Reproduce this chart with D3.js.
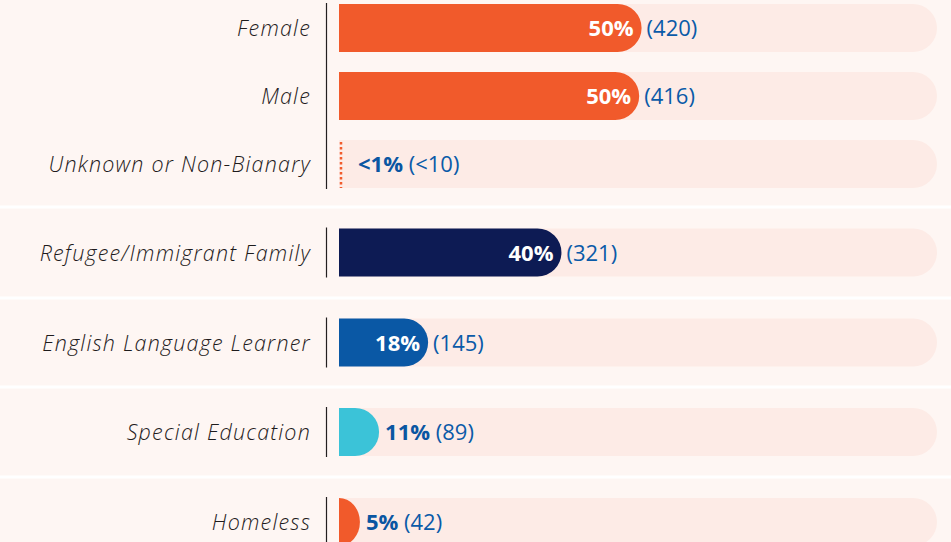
<!DOCTYPE html>
<html>
<head>
<meta charset="utf-8">
<script src="https://cdn.jsdelivr.net/npm/d3@7"></script>
<style>
  html, body { margin: 0; padding: 0; background: #fef6f3; }
  svg { display: block; }
</style>
</head>
<body>
<div class="chart"></div>
<script>
// categories, grouped as in the reference
var categories = ["Female", "Male", "Unknown or Non-Bianary",
  "Refugee/Immigrant Family", "English Language Learner", "Special Education", "Homeless"];
var groups = [0, 0, 0, 1, 2, 3, 4];

// bar lengths (share of the full track, 0-100)
var barValues = [50.6, 50.2, 0, 37.2, 14.9, 6.7, 3.5];

// printed labels
var shareLabels = ["50%", "50%", "<1%", "40%", "18%", "11%", "5%"];
var countLabels = ["(420)", "(416)", "(<10)", "(321)", "(145)", "(89)", "(42)"];

var barColors = ["#f15a2b", "#f15a2b", "#f15a2b", "#0d1b54", "#0a58a5", "#3bc3d8", "#f15a2b"];

var width = 951, height = 542;
var barH = 48;
var groupEdges = [0, 207, 298, 387, 477, 567];
var font = "'Open Sans', sans-serif";

var svg = d3.select(".chart").append("svg")
  .attr("width", width)
  .attr("height", height);

// background and white separators between groups
svg.append("rect")
  .attr("width", width).attr("height", height)
  .style("fill", "#fef6f3");

svg.selectAll("line.sep")
  .data(groupEdges.slice(1, -1))
  .enter()
  .append("line")
  .attr("class", "sep")
  .attr("x1", 0).attr("x2", width)
  .attr("y1", function (d) { return d; })
  .attr("y2", function (d) { return d; })
  .style("stroke", "#ffffff")
  .style("stroke-width", 3);

// x scale: track runs across the right part
var x = d3.scaleLinear().domain([0, 100]).range([339, 937]);

// y: one band scale per group
var rows = categories.map(function (c, i) { return { name: c, i: i, g: groups[i] }; });
var groupScales = d3.range(5).map(function (g) {
  var members = rows.filter(function (r) { return r.g === g; }).map(function (r) { return r.name; });
  var top = g === 0 ? groupEdges[g] - 6 : groupEdges[g];
  var bottom = g === 0 ? groupEdges[g + 1] - 9 : groupEdges[g + 1];
  return d3.scaleBand().domain(members).range([top, bottom]);
});
function cy(r) {
  var s = groupScales[r.g];
  return s(r.name) + s.bandwidth() / 2;
}

// pill shaped path with rounded right end
function pill(x0, x1, yc) {
  var w = x1 - x0;
  var ry = barH / 2;
  var rx = Math.min(ry, w);
  var y0 = yc - ry, y1 = yc + ry;
  return "M" + x0 + "," + y0 + "H" + (x1 - rx) +
    "A" + rx + "," + ry + " 0 0 1 " + x1 + "," + yc +
    "A" + rx + "," + ry + " 0 0 1 " + (x1 - rx) + "," + y1 +
    "H" + x0 + "Z";
}

// background tracks
svg.append("g").selectAll("path")
  .data(rows)
  .enter()
  .append("path")
  .attr("d", function (d) { return pill(x(0), x(100), cy(d)); })
  .style("fill", "#fdebe6");

// value bars
svg.append("g").selectAll("path")
  .data(rows.filter(function (d) { return barValues[d.i] > 0; }))
  .enter()
  .append("path")
  .attr("d", function (d) { return pill(x(0), x(barValues[d.i]), cy(d)); })
  .style("fill", function (d) { return barColors[d.i]; });

// dotted marker for the near-zero row
svg.append("g").selectAll("line")
  .data(rows.filter(function (d) { return barValues[d.i] === 0; }))
  .enter()
  .append("line")
  .attr("x1", x(0) + 2).attr("x2", x(0) + 2)
  .attr("y1", function (d) { return cy(d) - barH / 2 + 2; })
  .attr("y2", function (d) { return cy(d) + barH / 2; })
  .style("stroke", "#f15a2b")
  .style("stroke-width", 2.5)
  .style("stroke-dasharray", "2.5,2.5");

// vertical axis lines, one per group
svg.append("g").selectAll("line")
  .data(d3.range(5))
  .enter()
  .append("line")
  .attr("x1", 326.5).attr("x2", 326.5)
  .attr("y1", function (g) {
    var r = rows.filter(function (d) { return d.g === g; });
    return cy(r[0]) - barH / 2 - 1;
  })
  .attr("y2", function (g) {
    var r = rows.filter(function (d) { return d.g === g; });
    return cy(r[r.length - 1]) + barH / 2 + 1;
  })
  .style("stroke", "#231f20")
  .style("stroke-width", 1.2);

// category labels
svg.append("g").selectAll("text")
  .data(rows)
  .enter()
  .append("text")
  .attr("x", 311)
  .attr("y", function (d) { return cy(d) + 8; })
  .attr("text-anchor", "end")
  .style("font-family", font)
  .style("font-style", "italic")
  .style("font-weight", 300)
  .style("font-size", "21.5px")
  .style("letter-spacing", "1.2px")
  .style("fill", "#1e1b1c")
  .text(function (d) { return d.name; });

// value labels: share inside the bar when it fits, count after the bar
var labels = svg.append("g").selectAll("g")
  .data(rows)
  .enter()
  .append("g");

labels.each(function (d) {
  var g = d3.select(this);
  var end = x(barValues[d.i]);
  var inside = end - x(0) > 70;
  var y = cy(d) + 8;
  var t = g.append("text")
    .attr("y", y)
    .style("font-family", font)
    .style("font-size", "22px");
  if (inside) {
    g.append("text")
      .attr("x", end - 8)
      .attr("y", y)
      .attr("text-anchor", "end")
      .style("font-family", font)
      .style("font-size", "22px")
      .style("font-weight", 700)
      .style("fill", "#ffffff")
      .text(shareLabels[d.i]);
    t.attr("x", end + 5)
      .style("fill", "#0a5aa8")
      .text(countLabels[d.i]);
  } else {
    var start = barValues[d.i] === 0 ? x(0) + 19 : end + 6;
    t.attr("x", start);
    t.append("tspan")
      .style("font-weight", 700)
      .style("fill", "#0a56a2")
      .text(shareLabels[d.i]);
    t.append("tspan")
      .style("fill", "#0a5aa8")
      .text(" " + countLabels[d.i]);
  }
});
</script>
</body>
</html>
